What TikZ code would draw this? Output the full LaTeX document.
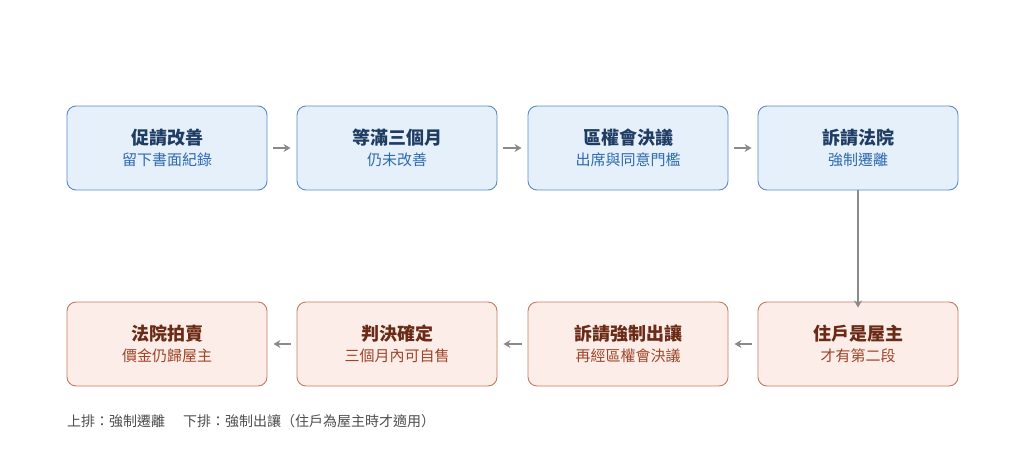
\documentclass[tikz,border=0pt]{standalone}
\usepackage{fontspec}
\newfontfamily\cjk{Noto Sans CJK TC}
\usepackage[HTML]{xcolor}
\usetikzlibrary{positioning, arrows.meta}
\definecolor{upfill}{HTML}{E5F0FB}
\definecolor{updraw}{HTML}{5A8CC4}
\definecolor{uptitle}{HTML}{1F3C62}
\definecolor{upsub}{HTML}{2E6AAE}
\definecolor{lofill}{HTML}{FCEDE8}
\definecolor{lodraw}{HTML}{C47A64}
\definecolor{lotitle}{HTML}{6A2A16}
\definecolor{losub}{HTML}{9E4529}
\definecolor{arrowgray}{HTML}{8A8A8A}
\tikzset{
  stagebox/.style={rounded corners=9pt, line width=0.9pt, minimum width=200pt, minimum height=84pt, align=center, font=\cjk, inner sep=0pt},
  upstage/.style={stagebox, fill=upfill, draw=updraw},
  lostage/.style={stagebox, fill=lofill, draw=lodraw},
  flow/.style={-{Stealth[length=7pt,width=8pt]}, draw=arrowgray, line width=1.8pt},
}
\newcommand{\stagetext}[4]{{\fontsize{18}{22}\selectfont\bfseries\color{#1}#3}\\[6pt]{\fontsize{15}{18}\selectfont\color{#2}#4}}
\begin{document}
\begin{tikzpicture}[x=1pt,y=-1pt]
\useasboundingbox (0,0) rectangle (1024,452);
% upper row
\node[upstage] (u1) at (167,148) {\stagetext{uptitle}{upsub}{促請改善}{留下書面紀錄}};
\node[upstage] (u2) at (397,148) {\stagetext{uptitle}{upsub}{等滿三個月}{仍未改善}};
\node[upstage] (u3) at (628,148) {\stagetext{uptitle}{upsub}{區權會決議}{出席與同意門檻}};
\node[upstage] (u4) at (858,148) {\stagetext{uptitle}{upsub}{訴請法院}{強制遷離}};
% lower row
\node[lostage] (l4) at (858,344) {\stagetext{lotitle}{losub}{住戶是屋主}{才有第二段}};
\node[lostage] (l3) at (628,344) {\stagetext{lotitle}{losub}{訴請強制出讓}{再經區權會決議}};
\node[lostage] (l2) at (397,344) {\stagetext{lotitle}{losub}{判決確定}{三個月內可自售}};
\node[lostage] (l1) at (167,344) {\stagetext{lotitle}{losub}{法院拍賣}{價金仍歸屋主}};
% connectors
\draw[flow] ([xshift=6pt]u1.east) -- ([xshift=-6pt]u2.west);
\draw[flow] ([xshift=6pt]u2.east) -- ([xshift=-6pt]u3.west);
\draw[flow] ([xshift=6pt]u3.east) -- ([xshift=-6pt]u4.west);
\draw[flow] (u4.south) -- ([yshift=-6pt]l4.north);
\draw[flow] ([xshift=-6pt]l4.west) -- ([xshift=6pt]l3.east);
\draw[flow] ([xshift=-6pt]l3.west) -- ([xshift=6pt]l2.east);
\draw[flow] ([xshift=-6pt]l2.west) -- ([xshift=6pt]l1.east);
% caption
\node[anchor=west, font=\cjk\fontsize{14}{17}\selectfont, text=black!70, inner sep=0pt] (note) at (67,421) {上排：強制遷離\hspace{18pt}下排：強制出讓（住戶為屋主時才適用）};
\end{tikzpicture}
\end{document}
